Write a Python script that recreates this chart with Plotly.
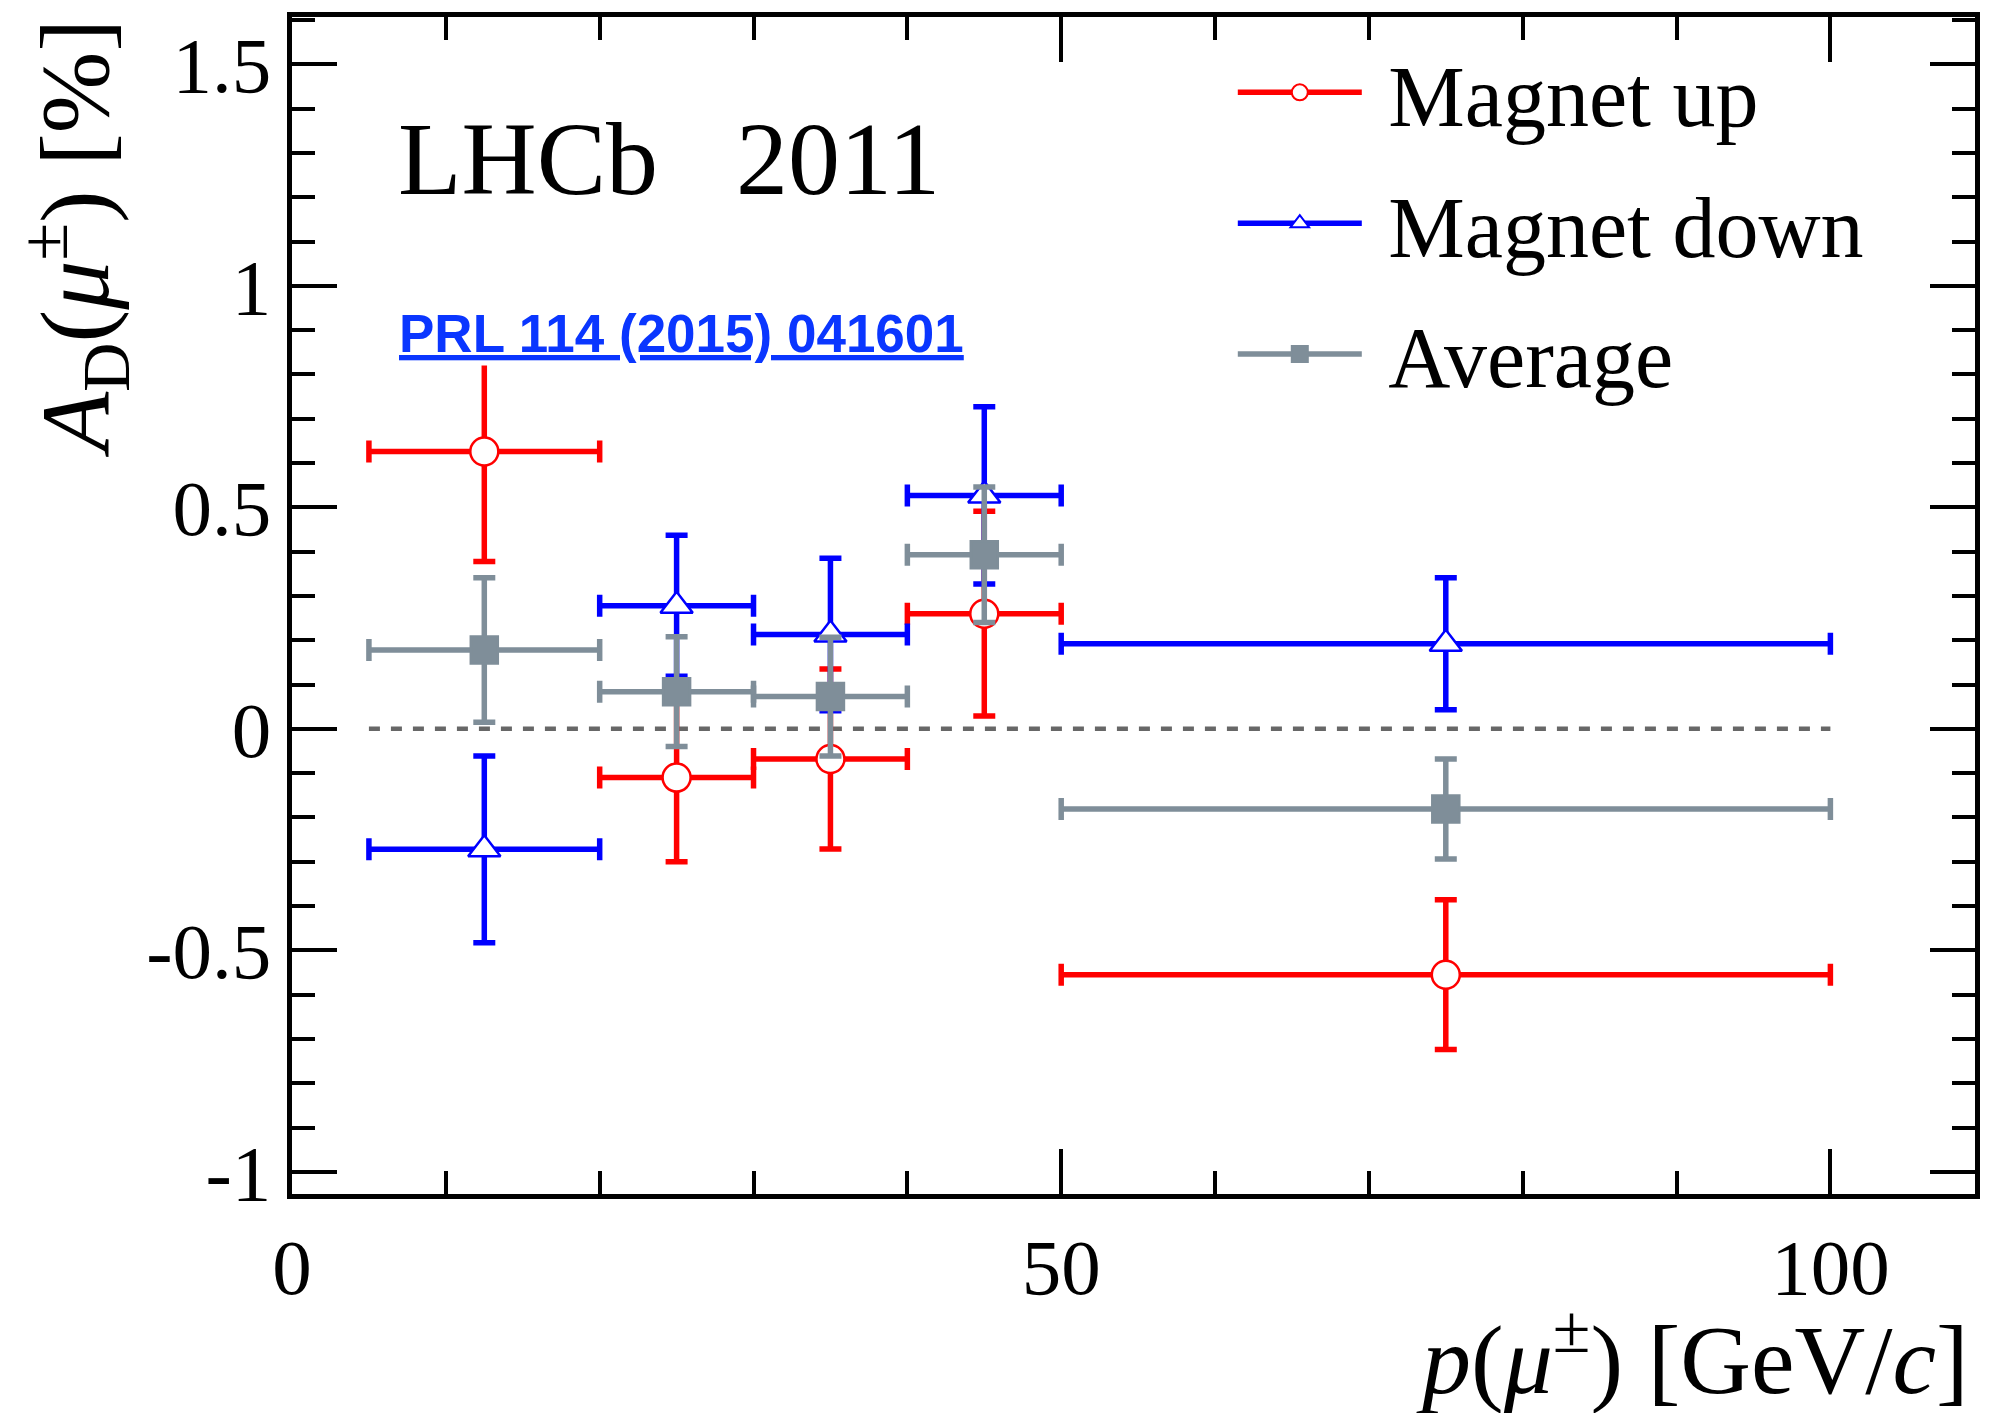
import plotly.graph_objects as go

# ---- data ----
p_center = [12.5, 25, 35, 45, 75]
p_halfwidth = [7.5, 5, 5, 5, 25]

mag_up = [0.626, -0.110, -0.068, 0.260, -0.555]
mag_up_err = [0.248, 0.190, 0.203, 0.231, 0.169]

mag_down = [-0.272, 0.278, 0.213, 0.527, 0.192]
mag_down_err = [0.211, 0.159, 0.172, 0.200, 0.149]

average = [0.178, 0.084, 0.073, 0.393, -0.181]
average_err = [0.163, 0.124, 0.134, 0.153, 0.113]

series_names = ["Magnet up", "Magnet down", "Average"]

x_tick_vals = [0, 50, 100]
x_tick_text = ["0", "50", "100"]
y_tick_vals = [-1, -0.5, 0, 0.5, 1, 1.5]
y_tick_text = ["-1", "-0.5", "0", "0.5", "1", "1.5"]

# ---- styles ----
RED = "#ff0000"
BLUE = "#0000ff"
GREY = "#7f8e99"
SERIF = "Liberation Serif"
SANS = "Liberation Sans"

series = [
    (series_names[0], mag_up, mag_up_err, RED, "circle", "white", 28),
    (series_names[1], mag_down, mag_down_err, BLUE, "triangle-up", "white", 28),
    (series_names[2], average, average_err, GREY, "square", GREY, 27),
]

fig = go.Figure()

# zero reference line spanning the binned range
x_lo = p_center[0] - p_halfwidth[0]
x_hi = p_center[-1] + p_halfwidth[-1]
fig.add_trace(go.Scatter(
    x=[x_lo, x_hi], y=[0, 0], mode="lines",
    line=dict(color="#676767", width=4.5, dash="11px,11px"),
    showlegend=False, hoverinfo="skip"))

for name, y, err, col, sym, fill, size in series:
    fig.add_trace(go.Scatter(
        x=p_center, y=y, mode="markers", name=name, showlegend=False,
        marker=dict(symbol=sym, size=size, color=fill,
                    line=dict(color=col, width=2.5)),
        error_x=dict(type="data", array=p_halfwidth, color=col,
                     thickness=5.5, width=11),
        error_y=dict(type="data", array=err, color=col,
                     thickness=5.5, width=11),
    ))

# legend entries (line + marker)
for i, (name, y, err, col, sym, fill, size) in enumerate(series):
    fig.add_trace(go.Scatter(
        x=[None], y=[None], mode="lines+markers",
        name="\u00a0" + name, legendgroup="g%d" % i,
        line=dict(color=col, width=5.5),
        marker=dict(symbol=sym, size=size, color=fill,
                    line=dict(color=col, width=2)),
    ))

axis_common = dict(
    showline=True, linewidth=5, linecolor="black", mirror="allticks",
    ticks="inside", ticklen=45, tickwidth=4, tickcolor="black",
    showgrid=False, zeroline=False,
    tickfont=dict(family=SERIF, size=79, color="black"),
)

fig.update_xaxes(
    range=[0, 109.4], tickmode="array", tickvals=x_tick_vals,
    ticktext=x_tick_text, ticklabelstandoff=0,
    minor=dict(ticks="inside", ticklen=23, tickwidth=4, tickcolor="black",
               tickmode="linear", tick0=0, dtick=10),
    **axis_common)
fig.update_yaxes(
    range=[-1.05, 1.607], tickmode="array", tickvals=y_tick_vals,
    ticktext=y_tick_text, ticklabelstandoff=0,
    minor=dict(ticks="inside", ticklen=23, tickwidth=4, tickcolor="black",
               tickmode="linear", tick0=0, dtick=0.1),
    **axis_common)

fig.update_layout(
    width=1992, height=1413, autosize=False,
    margin=dict(l=292, r=13, t=13, b=219, pad=0),
    paper_bgcolor="white", plot_bgcolor="white",
    legend=dict(
        x=0.559, y=0.989, xanchor="left", yanchor="top",
        font=dict(family=SERIF, size=86, color="black"),
        itemwidth=124, traceorder="grouped", tracegroupgap=16,
        bgcolor="rgba(0,0,0,0)", borderwidth=0,
    ),
    annotations=[
        dict(text="<i>A</i><sub>D</sub>(<i>\u03bc</i><sup>\u00b1</sup>) [%]",
             xref="paper", yref="paper", x=-0.1715, y=1.0,
             xanchor="left", yanchor="top", textangle=-90, showarrow=False,
             font=dict(family=SERIF, size=98, color="black")),
        dict(text="<i>p</i>(<i>\u03bc</i><sup>\u00b1</sup>) [GeV/<i>c</i>]",
             xref="paper", yref="paper", x=0.9976, y=-0.135,
             xanchor="right", yanchor="middle", showarrow=False,
             font=dict(family=SERIF, size=98, color="black")),
        dict(text="LHCb\u00a0\u00a0\u00a02011",
             xref="paper", yref="paper", x=0.0617, y=0.88,
             xanchor="left", yanchor="middle", showarrow=False,
             font=dict(family=SERIF, size=104, color="black")),
        dict(text="<u><b>PRL 114 (2015) 041601</b></u>",
             xref="paper", yref="paper", x=0.0617, y=0.731,
             xanchor="left", yanchor="middle", showarrow=False,
             bgcolor="white", borderpad=2,
             font=dict(family=SANS, size=53, color="#0a36ff")),
    ],
)

fig.write_html("out.html", config={"displayModeBar": False},
               post_script="document.body.style.margin='0';")
